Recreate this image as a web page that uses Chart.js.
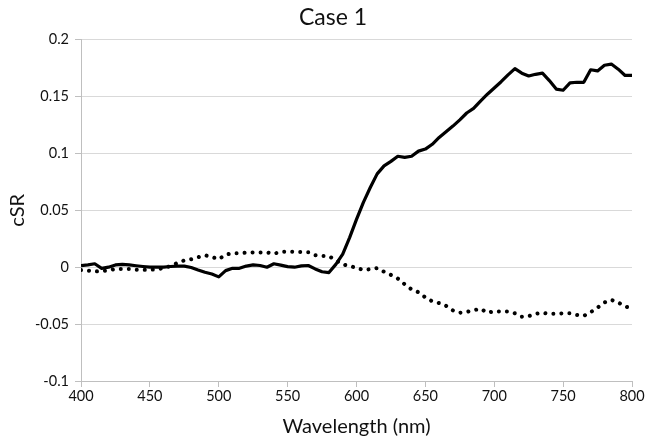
<!DOCTYPE html>
<html>
<head>
<meta charset="utf-8">
<script src="https://cdn.jsdelivr.net/npm/chart.js@4/dist/chart.umd.min.js"></script>
<style>
  html, body { margin: 0; padding: 0; background: #fff; }
  #wrap { width: 647px; height: 436px; }
</style>
</head>
<body>
<div id="wrap"><canvas id="caseChart"></canvas></div>
<script>
// wavelength (nm)
const wavelengths = [400,405,410,415,420,425,430,435,440,445,450,455,460,465,470,475,480,485,490,495,
  500,505,510,515,520,525,530,535,540,545,550,555,560,565,570,575,580,585,590,595,
  600,605,610,615,620,625,630,635,640,645,650,655,660,665,670,675,680,685,690,695,
  700,705,710,715,720,725,730,735,740,745,750,755,760,765,770,775,780,785,790,795,800];

// solid curve
const solidValues = [0.0014,0.002,0.003,-0.001,0.0,0.002,0.0025,0.002,0.0013,0.0006,0.0,0.0,0.0,0.0006,0.001,0.001,-0.0003,-0.0025,-0.0045,-0.006,
  -0.0085,-0.003,-0.001,-0.001,0.001,0.002,0.0015,0.0,0.003,0.0018,0.0005,0.0,0.0012,0.0015,-0.0015,-0.004,-0.0047,0.0025,0.0115,0.026,
  0.042,0.057,0.07,0.082,0.089,0.093,0.0975,0.0965,0.0975,0.102,0.1038,0.108,0.114,0.119,0.124,0.1295,0.1355,0.1395,0.146,0.152,
  0.1575,0.163,0.169,0.1745,0.1705,0.168,0.1695,0.1705,0.164,0.1565,0.1555,0.162,0.1625,0.1625,0.1735,0.1725,0.1775,0.1785,0.174,0.1685,0.1685];

// dotted curve
const dottedValues = [-0.0025,-0.003,-0.0037,-0.0035,-0.0027,-0.0015,-0.0015,-0.0015,-0.0022,-0.0024,-0.0022,-0.0019,-0.0008,0.001,0.0037,0.006,0.007,0.0088,0.0105,0.009,
  0.007,0.011,0.0123,0.0123,0.0128,0.013,0.013,0.013,0.0118,0.0135,0.0137,0.0135,0.0133,0.0132,0.0105,0.0098,0.0097,0.006,0.0025,0.001,
  -0.0005,-0.0025,-0.0017,-0.0008,-0.004,-0.0068,-0.010,-0.015,-0.0195,-0.022,-0.0265,-0.030,-0.0315,-0.034,-0.038,-0.040,-0.0393,-0.0378,-0.0365,-0.040,
  -0.0387,-0.039,-0.039,-0.0405,-0.0435,-0.043,-0.041,-0.040,-0.041,-0.041,-0.0405,-0.0405,-0.042,-0.0428,-0.0395,-0.0355,-0.031,-0.0287,-0.031,-0.0346,-0.036];

const xTicks = [400,450,500,550,600,650,700,750,800];
const yTicks = [-0.1,-0.05,0,0.05,0.1,0.15,0.2];

const FONT = "Lato, 'Open Sans', sans-serif";

new Chart(document.getElementById("caseChart"), {
  type: "line",
  data: {
    labels: wavelengths,
    datasets: [
      {
        label: "solid",
        data: wavelengths.map((w, i) => ({ x: w, y: solidValues[i] })),
        borderColor: "#000",
        borderWidth: 3.2,
        pointRadius: 0,
        tension: 0,
        borderJoinStyle: "round"
      },
      {
        label: "dotted",
        data: wavelengths.map((w, i) => ({ x: w, y: dottedValues[i] })),
        borderColor: "#000",
        borderWidth: 4,
        borderDash: [0.01, 8],
        borderCapStyle: "round",
        pointRadius: 0,
        tension: 0
      }
    ]
  },
  options: {
    responsive: true,
    maintainAspectRatio: false,
    animation: false,
    // uneven side padding keeps the title centred a bit right, like the original
    layout: { padding: { left: 34, right: 15, top: 2, bottom: 0 } },
    plugins: {
      legend: { display: false },
      tooltip: { enabled: false },
      title: {
        display: true,
        text: "Case 1",
        color: "#111",
        font: { family: FONT, size: 23, weight: "normal" },
        padding: { top: 2, bottom: 8 }
      }
    },
    scales: {
      x: {
        type: "linear",
        min: 400,
        max: 800,
        afterBuildTicks: (s) => { s.ticks = xTicks.map(v => ({ value: v })); },
        afterFit: (s) => { s.height = 55; },
        grid: { drawOnChartArea: false, drawTicks: true, tickLength: 6, color: "#bfbfbf" },
        border: { display: true, color: "#bfbfbf" },
        ticks: { color: "#111", font: { family: FONT, size: 14.5 }, padding: 1, maxRotation: 0, callback: (v) => String(v) },
        title: { display: true, text: "Wavelength (nm)", color: "#111", font: { family: FONT, size: 20 }, padding: { top: 0, bottom: -3 } }
      },
      y: {
        min: -0.1,
        max: 0.2,
        afterBuildTicks: (s) => { s.ticks = yTicks.map(v => ({ value: v })); },
        afterFit: (s) => { s.width = 47; },
        grid: { color: "#d9d9d9", lineWidth: 1, drawTicks: true, tickLength: 6, tickColor: "#bfbfbf" },
        border: { display: true, color: "#bfbfbf" },
        ticks: { color: "#111", font: { family: FONT, size: 14.5 }, padding: 6, callback: (v) => String(Math.round(v * 100) / 100) },
        title: { display: true, text: "cSR", color: "#111", font: { family: FONT, size: 20 }, padding: { top: -28, bottom: 0 } }
      }
    }
  }
});
</script>
</body>
</html>
